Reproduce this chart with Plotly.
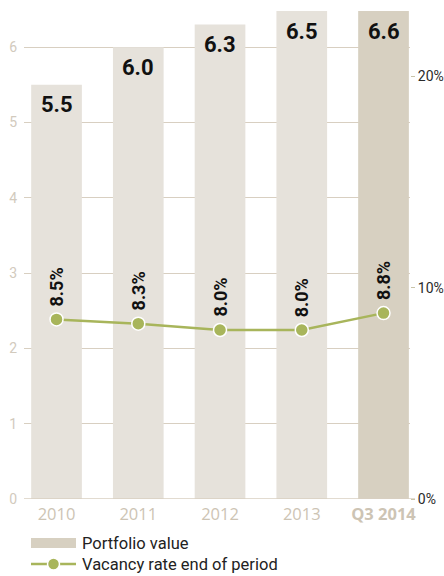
import plotly.graph_objects as go

# Chart data
categories = ["2010", "2011", "2012", "2013", "Q3 2014"]
portfolio_value = [5.5, 6.0, 6.3, 6.5, 6.6]
vacancy_rate = [8.5, 8.3, 8.0, 8.0, 8.8]
left_ticks = [0, 1, 2, 3, 4, 5, 6]
right_ticks = [0, 10, 20]
right_tick_labels = ["0%", "10%", "20%"]

# Styling
BAR = "#e6e2db"
BAR_HL = "#d7d0c1"
GREEN = "#a8b55b"
GRID = "#d8cfc1"
TAN_TEXT = "#cdc4b4"
FONT = "Roboto"

Y1_MAX = 6.48
Y2_MAX = 23.1

xs = list(range(len(categories)))
bar_colors = [BAR] * (len(categories) - 1) + [BAR_HL]

fig = go.Figure()

fig.add_trace(go.Bar(
    x=xs, y=portfolio_value, width=0.62,
    marker=dict(color=bar_colors, line=dict(width=0)),
    name="Portfolio value", showlegend=False, hoverinfo="skip",
))

fig.add_trace(go.Scatter(
    x=xs, y=vacancy_rate, yaxis="y2", mode="lines+markers",
    line=dict(color=GREEN, width=2.5),
    marker=dict(color=GREEN, size=13, line=dict(color="white", width=1.5)),
    name="Vacancy rate end of period", showlegend=False, hoverinfo="skip",
))

annotations = []
# Portfolio values inside the top of each bar
for i, v in enumerate(portfolio_value):
    annotations.append(dict(
        x=i, y=min(v, Y1_MAX), xref="x", yref="y",
        text=f"<b>{v:.1f}</b>", showarrow=False,
        xanchor="center", yanchor="middle", yshift=-20,
        font=dict(family=FONT, size=22, color="#111111"),
    ))
# Vacancy rate labels, rotated above the markers
for i, v in enumerate(vacancy_rate):
    annotations.append(dict(
        x=i, y=v, xref="x", yref="y2",
        text=f"<b>{v:.1f}%</b>", showarrow=False, textangle=-90,
        xanchor="center", yanchor="bottom", yshift=11,
        font=dict(family=FONT, size=18, color="#111111"),
    ))

# Legend drawn below the axis
W, H, L, B = 386.0, 488.0, 24.0, 499.0
def px(xp):
    return (xp - L) / W
def py(yp):
    return (B - yp) / H

annotations += [
    dict(x=px(80), y=py(543), xref="paper", yref="paper", text="Portfolio value",
         showarrow=False, xanchor="left", yanchor="middle",
         font=dict(family=FONT, size=16.5, color="#222222")),
    dict(x=px(80), y=py(564), xref="paper", yref="paper", text="Vacancy rate end of period",
         showarrow=False, xanchor="left", yanchor="middle",
         font=dict(family=FONT, size=16.5, color="#222222")),
]

shapes = [
    dict(type="rect", xref="paper", yref="paper",
         x0=px(31), x1=px(76), y0=py(548), y1=py(538),
         fillcolor=BAR_HL, line=dict(width=0)),
    dict(type="line", xref="paper", yref="paper",
         x0=px(31), x1=px(76), y0=py(564), y1=py(564),
         line=dict(color=GREEN, width=2.5)),
    dict(type="circle", xref="paper", yref="paper",
         xsizemode="pixel", ysizemode="pixel",
         xanchor=px(53.5), yanchor=py(564),
         x0=-6, x1=6, y0=-6, y1=6,
         fillcolor=GREEN, line=dict(color="white", width=1.5)),
    # baseline running slightly past the last bar
    dict(type="line", xref="paper", yref="y",
         x0=0, x1=px(415), y0=0, y1=0,
         line=dict(color=GRID, width=1.5), layer="above"),
]

fig.update_layout(
    width=444, height=576,
    margin=dict(l=24, r=34, t=11, b=77, autoexpand=False),
    paper_bgcolor="white", plot_bgcolor="white",
    xaxis=dict(
        range=[-0.398, 4.324], tickmode="array", tickvals=xs,
        ticktext=[c if c != "Q3 2014" else "<b>Q3 2014</b>" for c in categories],
        tickfont=dict(family="Open Sans", size=16.5, color=TAN_TEXT),
        showgrid=False, zeroline=False, showline=False,
        ticks="", ticklabelstandoff=3, automargin=False,
    ),
    yaxis=dict(
        range=[0, Y1_MAX], tickmode="array", tickvals=left_ticks,
        tickfont=dict(family=FONT, size=14, color="#d2cabd"),
        showgrid=True, gridcolor=GRID, gridwidth=1,
        zeroline=False, showline=False, ticks="", ticklabelstandoff=6,
        automargin=False,
    ),
    yaxis2=dict(
        range=[0, Y2_MAX], overlaying="y", side="right",
        tickmode="array", tickvals=right_ticks, ticktext=right_tick_labels,
        tickfont=dict(family=FONT, size=14, color="#2a2a2a"),
        showgrid=False, zeroline=False, showline=False,
        ticks="outside", ticklen=4, tickcolor="#c8c3a8", tickwidth=1,
        automargin=False,
    ),
    annotations=annotations,
    shapes=shapes,
    showlegend=False,
)

fig.write_html("out.html")
